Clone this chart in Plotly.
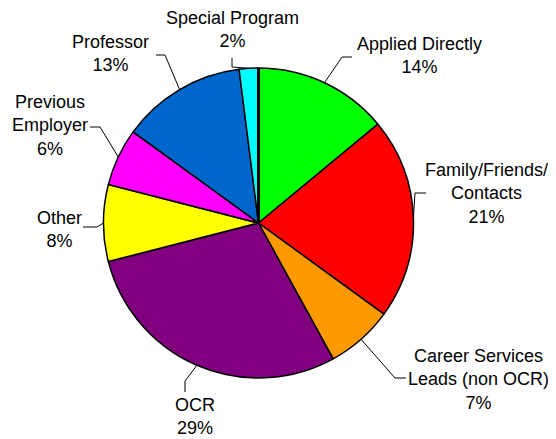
import math
import plotly.graph_objects as go

labels = ["Applied Directly", "Family/Friends/Contacts", "Career Services Leads (non OCR)",
          "OCR", "Other", "Previous Employer", "Professor", "Special Program"]
label_text = ["Applied Directly<br>14%", "Family/Friends/<br>Contacts<br>21%",
              "Career Services<br>Leads (non OCR)<br>7%", "OCR<br>29%", "Other<br>8%",
              "Previous<br>Employer<br>6%", "Professor<br>13%", "Special Program<br>2%"]
values = [14, 21, 7, 29, 8, 6, 13, 2]
colors = ["#00FF00", "#FF0000", "#FF9900", "#800080", "#FFFF00", "#FF00FF", "#0066CC", "#00FFFF"]

# the page body adds an 8px margin; the figure fills the rest of the 556x439 window
OFF = 8
W, H = 556 - OFF, 439 - OFF
CX, CY, R = 258.5, 223.0, 155.0

# label centres (window px) and leader elbow points (window px)
label_pos = [(419, 55), (486, 193), (478, 379), (195, 416), (59, 229), (50, 126), (110, 53), (232, 30)]
leader_pts = [
    [(342, 57), (352, 57)],
    [(415, 193), (426, 193)],
    [(395, 378), (406, 378)],
    [(185, 381), (185, 392)],
    [(97, 227), (83, 227)],
    [(100, 127), (90, 127)],
    [(165, 55), (156, 55)],
    [(232, 67), (232, 58)],
]

def px(x):
    return (x - OFF) / W

def py(y):
    return 1 - (y - OFF) / H

fig = go.Figure(go.Pie(
    labels=labels, values=values, sort=False, direction="clockwise", rotation=0,
    marker=dict(colors=colors, line=dict(color="black", width=1.5)),
    textinfo="none", hoverinfo="label+percent",
    domain=dict(x=[px(CX - R), px(CX + R)], y=[py(CY + R), py(CY - R)]),
    showlegend=False,
))

total = sum(values)
cum = 0
shapes = []
annotations = []
for i, v in enumerate(values):
    mid = 2 * math.pi * (cum + v / 2) / total
    cum += v
    ex = CX + R * math.sin(mid)
    ey = CY - R * math.cos(mid)
    pts = [(ex, ey)] + leader_pts[i]
    path = "M " + " L ".join(f"{px(a):.5f},{py(b):.5f}" for a, b in pts)
    shapes.append(dict(type="path", path=path, xref="paper", yref="paper",
                       line=dict(color="black", width=1)))
    lx, ly = label_pos[i]
    annotations.append(dict(text=label_text[i], x=px(lx), y=py(ly), xref="paper", yref="paper",
                            showarrow=False, xanchor="center", yanchor="middle", align="center",
                            font=dict(size=18, color="black", family="Liberation Sans, Arial, sans-serif")))

# thick start border at 12 o'clock
shapes.append(dict(type="line", xref="paper", yref="paper",
                   x0=px(CX), y0=py(CY), x1=px(CX), y1=py(CY - R),
                   line=dict(color="black", width=3)))

fig.update_layout(width=W, height=H, margin=dict(l=0, r=0, t=0, b=0),
                  paper_bgcolor="white", plot_bgcolor="white",
                  shapes=shapes, annotations=annotations)

fig.write_html("out.html")
